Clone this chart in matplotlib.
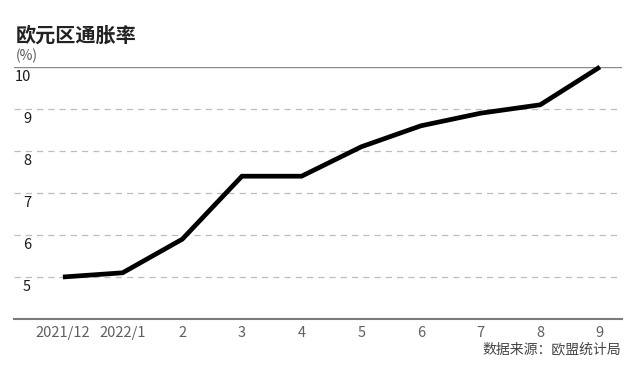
import matplotlib
matplotlib.use("Agg")
import matplotlib.pyplot as plt
from matplotlib.transforms import blended_transform_factory

plt.rcParams['font.family'] = ['Noto Sans CJK SC', 'DejaVu Sans']

months = ["2021/12", "2022/1", "2", "3", "4", "5", "6", "7", "8", "9"]
inflation = [5.0, 5.1, 5.9, 7.4, 7.4, 8.1, 8.6, 8.9, 9.1, 10.0]
y_ticks = [5, 6, 7, 8, 9, 10]
title = "欧元区通胀率"
unit = "(%)"
source = "数据来源：欧盟统计局"

fig = plt.figure(figsize=(6.31, 3.70), dpi=100)
ax = fig.add_axes([14/631, 1-319/370, 608/631, 252/370])

x = list(range(len(months)))
ax.set_xlim(-0.82, 9.37)
ax.set_ylim(4, 10)

for v in y_ticks:
    if v == 10:
        ax.axhline(v, color="#8a8a8a", lw=1.0, zorder=1)
    else:
        ax.axhline(v, color="#bdbdbd", lw=0.9, ls=(0, (5, 4)), zorder=1)

ax.plot(x, inflation, color="black", lw=3.4, solid_joinstyle="miter",
        solid_capstyle="butt", zorder=3, clip_on=False)

for s in ["top", "left", "right"]:
    ax.spines[s].set_visible(False)
ax.spines["bottom"].set_color("#7a7a7a")
ax.spines["bottom"].set_linewidth(1.5)

ax.set_yticks([])
ax.set_xticks(x)
ax.set_xticklabels(months, fontsize=10.5, color="#606060", fontweight="light")
ax.tick_params(axis="x", length=0, pad=5)

trans = blended_transform_factory(fig.transFigure, ax.transData)
for v in y_ticks:
    ax.text(31/631, v - 10/42, str(v), transform=trans, ha="right", va="center",
            fontsize=10.5, fontweight="medium", color="#1a1a1a")

fig.text(16/631, 1-35/370, title, fontsize=14.5, fontweight="bold",
         color="#222222", ha="left", va="center")
fig.text(16/631, 1-56/370, unit, fontsize=10, color="#555555",
         fontweight="light", ha="left", va="center")
fig.text(621/631, 1-349/370, source, fontsize=10, color="#444444",
         ha="right", va="center")

fig.savefig("out.png", dpi=100)
